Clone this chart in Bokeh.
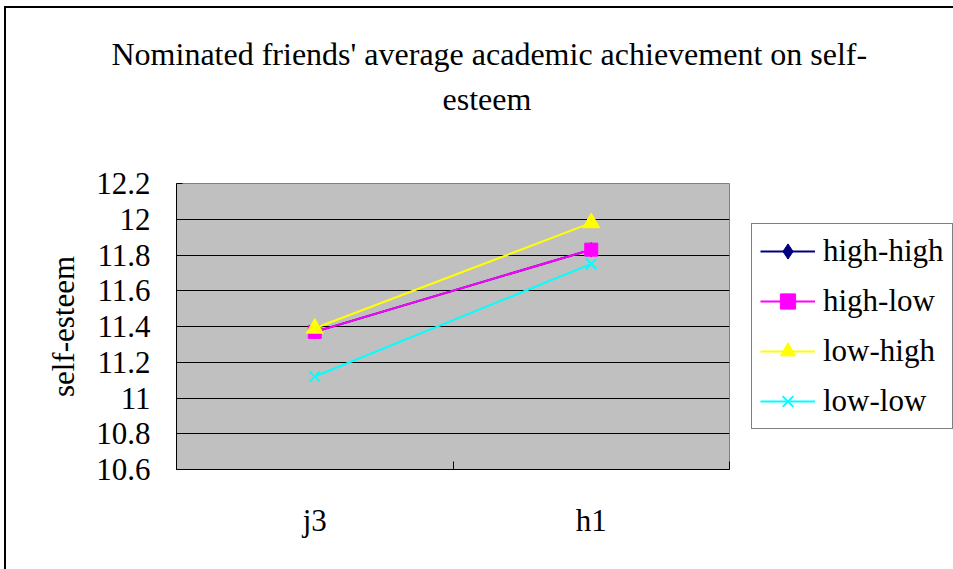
from bokeh.plotting import figure
from bokeh.models import (Range1d, FixedTicker, Legend, LegendItem, Title)
from bokeh.embed import file_html
from bokeh.resources import INLINE

categories = ["j3", "h1"]
series_names = ["high-high", "high-low", "low-high", "low-low"]
high_high = [11.37, 11.83]
high_low = [11.37, 11.83]
low_high = [11.39, 11.98]
low_low = [11.12, 11.75]
y_ticks = [10.6, 10.8, 11.0, 11.2, 11.4, 11.6, 11.8, 12.0, 12.2]
y_tick_labels = ["10.6", "10.8", "11", "11.2", "11.4", "11.6", "11.8", "12", "12.2"]
title_lines = ["Nominated friends' average  academic achievement on self-", "esteem"]

FONT = "Liberation Serif"
FS = "31px"

xs = [i + 0.5 for i in range(len(categories))]

p = figure(output_backend="svg", toolbar_location=None,
           frame_width=553, frame_height=286,
           x_range=Range1d(0, len(categories)), y_range=Range1d(10.6, 12.2),
           min_border_left=170, min_border_right=10, min_border_top=175, min_border_bottom=100)
p.styles = {"border-left": "2px solid black", "border-top": "2px solid black",
            "margin-left": "4px", "margin-top": "6px"}
p.background_fill_color = "#C0C0C0"
p.border_fill_color = "white"
p.outline_line_color = "#808080"
p.outline_line_width = 1

# titles: stacked outward from the frame (spacer first)
spacer = Title(text=" ", align="left", standoff=58, text_font_size="1px", text_color="white")
t2 = Title(text=title_lines[1], align="left", offset=266, standoff=12,
           text_font=FONT, text_font_size="32px", text_font_style="normal", text_color="black")
t1 = Title(text=title_lines[0], align="left", offset=-65, standoff=2,
           text_font=FONT, text_font_size="32px", text_font_style="normal", text_color="black")
p.add_layout(spacer, "above")
p.add_layout(t2, "above")
p.add_layout(t1, "above")

# axes
p.yaxis.ticker = FixedTicker(ticks=y_ticks)
p.yaxis.major_label_overrides = {t: l for t, l in zip(y_ticks, y_tick_labels)}
p.yaxis.major_label_text_font = FONT
p.yaxis.major_label_text_font_size = FS
p.yaxis.major_label_text_color = "black"
p.yaxis.major_tick_in = 6
p.yaxis.major_tick_out = 0
p.yaxis.minor_tick_line_color = None
p.yaxis.axis_line_color = "black"
p.yaxis.major_label_standoff = 26
p.yaxis.axis_label = "self-esteem"
p.yaxis.axis_label_text_font = FONT
p.yaxis.axis_label_text_font_size = FS
p.yaxis.axis_label_text_font_style = "normal"
p.yaxis.axis_label_text_color = "black"
p.yaxis.axis_label_standoff = 12

p.xaxis.ticker = FixedTicker(ticks=xs, minor_ticks=list(range(len(categories) + 1)))
p.xaxis.major_label_overrides = {x: c for x, c in zip(xs, categories)}
p.xaxis.major_label_text_font = FONT
p.xaxis.major_label_text_font_size = FS
p.xaxis.major_label_text_color = "black"
p.xaxis.major_tick_line_color = None
p.xaxis.minor_tick_in = 8
p.xaxis.minor_tick_out = 0
p.xaxis.minor_tick_line_color = "black"
p.xaxis.axis_line_color = "black"
p.xaxis.major_label_standoff = 27

p.xgrid.grid_line_color = None
p.ygrid.ticker = FixedTicker(ticks=y_ticks)
p.ygrid.grid_line_color = "black"
p.ygrid.grid_line_width = 1

# series
r1 = p.line(xs, high_high, line_color="#000080", line_width=2)
m1 = p.scatter(xs, high_high, marker="diamond", size=14, fill_color="#000080", line_color="#000080")
r2 = p.line(xs, high_low, line_color="#FF00FF", line_width=2)
m2 = p.scatter(xs, high_low, marker="square", size=13, fill_color="#FF00FF", line_color="#FF00FF")
r3 = p.line(xs, low_high, line_color="#FFFF00", line_width=2)
m3 = p.scatter(xs, low_high, marker="triangle", size=17, fill_color="#FFFF00", line_color="#FFFF00")
r4 = p.line(xs, low_low, line_color="#00FFFF", line_width=2)
m4 = p.scatter(xs, low_low, marker="x", size=15, line_color="#00FFFF", line_width=2)

legend = Legend(items=[
    LegendItem(label=series_names[0], renderers=[r1, m1]),
    LegendItem(label=series_names[1], renderers=[r2, m2]),
    LegendItem(label=series_names[2], renderers=[r3, m3]),
    LegendItem(label=series_names[3], renderers=[r4, m4]),
], location="center_left")
legend.label_text_font = FONT
legend.label_text_font_size = FS
legend.label_text_color = "black"
legend.glyph_width = 55
legend.glyph_height = 38
legend.spacing = 12
legend.padding = 8
legend.label_standoff = 8
legend.border_line_color = "black"
legend.border_line_width = 1
legend.background_fill_color = "white"
legend.margin = 22
p.add_layout(legend, "right")

open("out.html", "w").write(file_html(p, INLINE))
